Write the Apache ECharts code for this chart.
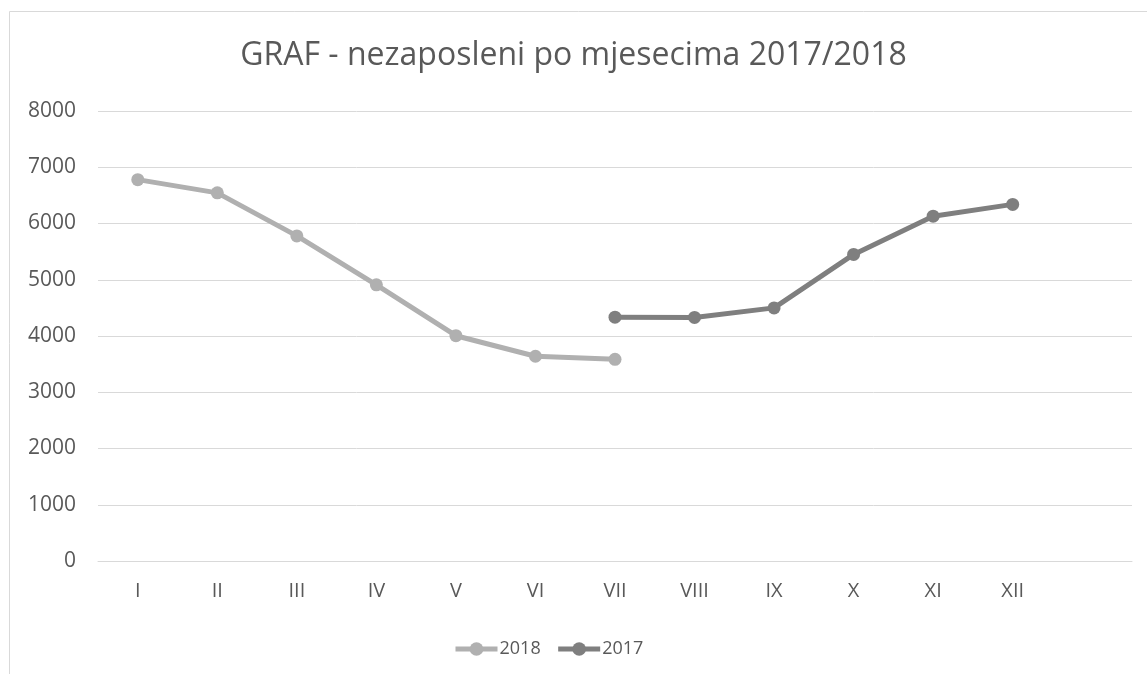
<!DOCTYPE html>
<html>
<head>
<meta charset="utf-8">
<script src="https://cdn.jsdelivr.net/npm/echarts@6/dist/echarts.min.js"></script>
<style>
  html, body { margin: 0; padding: 0; background: #fff; }
  #chart { width: 1147px; height: 674px; }
</style>
</head>
<body>
<div id="chart"></div>
<script>
// mjeseci (zadnja kategorija je prazna, kao u originalu)
const months = ['I', 'II', 'III', 'IV', 'V', 'VI', 'VII', 'VIII', 'IX', 'X', 'XI', 'XII', '']
const data2018 = [6780, 6545, 5780, 4910, 4005, 3640, 3585, null, null, null, null, null, null]
const data2017 = [null, null, null, null, null, null, 4335, 4330, 4500, 5450, 6130, 6340, null]

const chart = echarts.init(document.getElementById('chart'))
const font = '"Open Sans", "Noto Sans", sans-serif'

chart.setOption({
  animation: false,
  textStyle: { fontFamily: font },
  title: {
    text: 'GRAF - nezaposleni po mjesecima 2017/2018',
    left: 'center',
    top: 35,
    textStyle: { fontSize: 32, fontWeight: 'normal', color: '#595959', fontFamily: font }
  },
  // okvir grafa
  graphic: [{
    type: 'rect',
    shape: { x: 9.5, y: 11.5, width: 1200, height: 700 },
    style: { fill: 'none', stroke: '#d9d9d9', lineWidth: 1 },
    silent: true
  }],
  grid: { left: 98, right: 15, top: 111, bottom: 113 },
  legend: {
    bottom: 11,
    left: 448,
    itemWidth: 42,
    itemHeight: 17,
    itemGap: 15,
    lineStyle: { width: 5 },
    textStyle: { fontSize: 18, color: '#595959', padding: [0, 0, 0, -3] },
    data: ['2018', '2017']
  },
  xAxis: {
    type: 'category',
    data: months,
    boundaryGap: true,
    axisLine: { lineStyle: { color: '#d9d9d9', width: 1 } },
    axisTick: { show: false },
    axisLabel: { color: '#595959', fontSize: 20, margin: 20, interval: 0 }
  },
  yAxis: {
    type: 'value',
    min: 0,
    max: 8000,
    interval: 1000,
    axisLine: { show: false },
    axisTick: { show: false },
    axisLabel: { color: '#595959', fontSize: 21, margin: 22, formatter: v => String(v) },
    splitLine: { lineStyle: { color: '#d9d9d9', width: 1 } }
  },
  series: [
    {
      name: '2018',
      type: 'line',
      data: data2018,
      symbol: 'circle',
      symbolSize: 13,
      lineStyle: { color: '#b0b0b0', width: 5 },
      itemStyle: { color: '#b0b0b0' }
    },
    {
      name: '2017',
      type: 'line',
      data: data2017,
      symbol: 'circle',
      symbolSize: 13,
      lineStyle: { color: '#7f7f7f', width: 5 },
      itemStyle: { color: '#7f7f7f' }
    }
  ]
})
</script>
</body>
</html>
